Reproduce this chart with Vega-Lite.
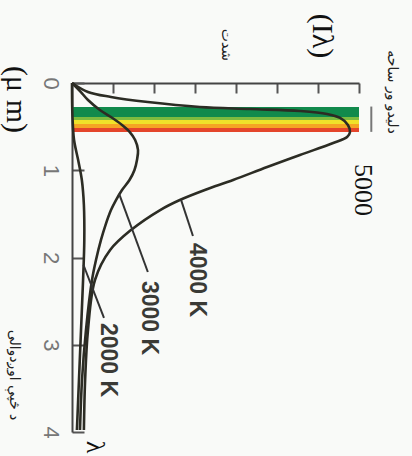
{
  "$schema": "https://vega.github.io/schema/vega-lite/v6.json",
  "width": 287,
  "height": 349,
  "autosize": "none",
  "padding": {"left": 72, "top": 83, "right": 53, "bottom": 24},
  "background": "#f9faf8",
  "config": {"view": {"stroke": null}, "axis": {"grid": false}},
  "datasets": {
    "bands": [
      {"band": "g1", "I": 0, "I2": 7, "L": 0.275, "L2": 0.39},
      {"band": "g2", "I": 0, "I2": 7, "L": 0.39, "L2": 0.424},
      {"band": "y", "I": 0, "I2": 7, "L": 0.424, "L2": 0.47},
      {"band": "o", "I": 0, "I2": 7, "L": 0.47, "L2": 0.516},
      {"band": "r", "I": 0, "I2": 7, "L": 0.516, "L2": 0.562}
    ],
    "curves": [
      {"T": "4000 K", "i": 0, "I": 0, "L": 0},
      {"T": "4000 K", "i": 1, "I": 0.39, "L": 0.103},
      {"T": "4000 K", "i": 2, "I": 0.95, "L": 0.16},
      {"T": "4000 K", "i": 3, "I": 1.85, "L": 0.218},
      {"T": "4000 K", "i": 4, "I": 3.12, "L": 0.275},
      {"T": "4000 K", "i": 5, "I": 4.34, "L": 0.298},
      {"T": "4000 K", "i": 6, "I": 5.56, "L": 0.321},
      {"T": "4000 K", "i": 7, "I": 6.22, "L": 0.355},
      {"T": "4000 K", "i": 8, "I": 6.54, "L": 0.401},
      {"T": "4000 K", "i": 9, "I": 6.73, "L": 0.481},
      {"T": "4000 K", "i": 10, "I": 6.78, "L": 0.562},
      {"T": "4000 K", "i": 11, "I": 6.71, "L": 0.619},
      {"T": "4000 K", "i": 12, "I": 6.37, "L": 0.688},
      {"T": "4000 K", "i": 13, "I": 5.56, "L": 0.825},
      {"T": "4000 K", "i": 14, "I": 4.76, "L": 0.963},
      {"T": "4000 K", "i": 15, "I": 3.93, "L": 1.112},
      {"T": "4000 K", "i": 16, "I": 3.24, "L": 1.226},
      {"T": "4000 K", "i": 17, "I": 2.63, "L": 1.341},
      {"T": "4000 K", "i": 18, "I": 2.15, "L": 1.456},
      {"T": "4000 K", "i": 19, "I": 1.44, "L": 1.685},
      {"T": "4000 K", "i": 20, "I": 0.93, "L": 1.914},
      {"T": "4000 K", "i": 21, "I": 0.56, "L": 2.258},
      {"T": "4000 K", "i": 22, "I": 0.39, "L": 2.831},
      {"T": "4000 K", "i": 23, "I": 0.32, "L": 3.404},
      {"T": "4000 K", "i": 24, "I": 0.29, "L": 3.977},
      {"T": "3000 K", "i": 0, "I": 0, "L": 0},
      {"T": "3000 K", "i": 1, "I": 0.195, "L": 0.092},
      {"T": "3000 K", "i": 2, "I": 0.39, "L": 0.195},
      {"T": "3000 K", "i": 3, "I": 0.68, "L": 0.309},
      {"T": "3000 K", "i": 4, "I": 0.95, "L": 0.39},
      {"T": "3000 K", "i": 5, "I": 1.22, "L": 0.481},
      {"T": "3000 K", "i": 6, "I": 1.41, "L": 0.562},
      {"T": "3000 K", "i": 7, "I": 1.54, "L": 0.653},
      {"T": "3000 K", "i": 8, "I": 1.61, "L": 0.768},
      {"T": "3000 K", "i": 9, "I": 1.585, "L": 0.883},
      {"T": "3000 K", "i": 10, "I": 1.524, "L": 0.997},
      {"T": "3000 K", "i": 11, "I": 1.402, "L": 1.112},
      {"T": "3000 K", "i": 12, "I": 1.22, "L": 1.226},
      {"T": "3000 K", "i": 13, "I": 1.073, "L": 1.341},
      {"T": "3000 K", "i": 14, "I": 0.951, "L": 1.456},
      {"T": "3000 K", "i": 15, "I": 0.817, "L": 1.628},
      {"T": "3000 K", "i": 16, "I": 0.707, "L": 1.799},
      {"T": "3000 K", "i": 17, "I": 0.585, "L": 2.029},
      {"T": "3000 K", "i": 18, "I": 0.488, "L": 2.258},
      {"T": "3000 K", "i": 19, "I": 0.341, "L": 2.831},
      {"T": "3000 K", "i": 20, "I": 0.244, "L": 3.404},
      {"T": "3000 K", "i": 21, "I": 0.195, "L": 3.977},
      {"T": "2000 K", "i": 0, "I": 0, "L": 0},
      {"T": "2000 K", "i": 1, "I": 0.01, "L": 0.367},
      {"T": "2000 K", "i": 2, "I": 0.05, "L": 0.653},
      {"T": "2000 K", "i": 3, "I": 0.15, "L": 0.883},
      {"T": "2000 K", "i": 4, "I": 0.24, "L": 1.112},
      {"T": "2000 K", "i": 5, "I": 0.29, "L": 1.398},
      {"T": "2000 K", "i": 6, "I": 0.3, "L": 1.799},
      {"T": "2000 K", "i": 7, "I": 0.27, "L": 2.258},
      {"T": "2000 K", "i": 8, "I": 0.22, "L": 2.831},
      {"T": "2000 K", "i": 9, "I": 0.17, "L": 3.404},
      {"T": "2000 K", "i": 10, "I": 0.12, "L": 3.977}
    ],
    "leaders": [
      {"T": "4000 K", "I": 2.66, "L": 1.34, "I2": 2.95, "L2": 1.754},
      {"T": "3000 K", "I": 1.15, "L": 1.27, "I2": 1.85, "L2": 2.166},
      {"T": "2000 K", "I": 0.28, "L": 2.086, "I2": 0.78, "L2": 2.693}
    ],
    "curveLabels": [
      {"t": "4000 K", "I": 3.05, "L": 2.258},
      {"t": "3000 K", "I": 1.88, "L": 2.693},
      {"t": "2000 K", "I": 0.88, "L": 3.175}
    ],
    "serifLabels": [
      {"t": "5000", "I": 7.1, "L": 1.226},
      {"t": "λ", "I": 0.56, "L": 4.172}
    ],
    "bigSerifLabels": [
      {"t": "(Iλ)", "I": 6.1, "L": -0.539},
      {"t": "(μ m)", "I": -1.37, "L": 0.19}
    ],
    "arabicLabels": [
      {"t": "شدت", "I": 3.76, "L": -0.436},
      {"t": "دلیدو ور ساحه", "I": 7.8, "L": 0.103},
      {"t": "د څپې اوږدوالی", "I": -1.41, "L": 3.347}
    ],
    "brace": [
      {"I": 7.3, "L": 0.27, "I2": 7.3, "L2": 0.56}
    ]
  },
  "encoding": {
    "x": {
      "field": "I", "type": "quantitative",
      "scale": {"domain": [0, 7], "nice": false, "zero": false},
      "axis": {
        "orient": "top", "values": [1, 2, 3, 4, 5, 6, 7], "labels": false, "title": null,
        "tickSize": -10, "tickWidth": 2, "tickColor": "#555", "domainColor": "#444", "domainWidth": 2
      }
    },
    "y": {
      "field": "L", "type": "quantitative",
      "scale": {"domain": [0, 4], "nice": false, "zero": false, "reverse": true},
      "axis": {
        "orient": "left", "values": [0, 1, 2, 3, 4], "title": null,
        "tickSize": -12, "tickWidth": 2, "tickColor": "#555", "domainColor": "#444", "domainWidth": 2,
        "labelPadding": 34, "labelAngle": 90, "labelAlign": "center", "labelBaseline": "middle",
        "labelFont": "Liberation Sans", "labelFontSize": 22, "labelColor": "#777"
      }
    }
  },
  "layer": [
    {
      "data": {"name": "bands"},
      "mark": {"type": "rect"},
      "encoding": {
        "x2": {"field": "I2"},
        "y2": {"field": "L2"},
        "color": {
          "field": "band", "type": "nominal", "legend": null,
          "scale": {"domain": ["g1", "g2", "y", "o", "r"], "range": ["#118a4c", "#7dbb3f", "#f0e22a", "#f5a524", "#e4452b"]}
        }
      }
    },
    {
      "data": {"name": "brace"},
      "mark": {"type": "rule", "color": "#777", "strokeWidth": 2},
      "encoding": {"x2": {"field": "I2"}, "y2": {"field": "L2"}}
    },
    {
      "data": {"name": "curves"},
      "mark": {"type": "line", "color": "#2c2c24", "strokeWidth": 2.6, "interpolate": "catmull-rom"},
      "encoding": {
        "detail": {"field": "T", "type": "nominal"},
        "order": {"field": "i", "type": "quantitative"}
      }
    },
    {
      "data": {"name": "leaders"},
      "mark": {"type": "rule", "color": "#333", "strokeWidth": 2},
      "encoding": {"x2": {"field": "I2"}, "y2": {"field": "L2"}}
    },
    {
      "data": {"name": "curveLabels"},
      "mark": {"type": "text", "angle": 90, "align": "center", "baseline": "middle", "font": "Liberation Sans", "fontWeight": "bold", "fontSize": 23, "color": "#3a3a36"},
      "encoding": {"text": {"field": "t"}}
    },
    {
      "data": {"name": "serifLabels"},
      "mark": {"type": "text", "angle": 90, "align": "center", "baseline": "middle", "font": "Liberation Serif", "fontSize": 26, "color": "#111"},
      "encoding": {"text": {"field": "t"}}
    },
    {
      "data": {"name": "bigSerifLabels"},
      "mark": {"type": "text", "angle": 90, "align": "center", "baseline": "middle", "font": "Liberation Serif", "fontSize": 30, "color": "#111"},
      "encoding": {"text": {"field": "t"}}
    },
    {
      "data": {"name": "arabicLabels"},
      "mark": {"type": "text", "angle": 90, "align": "center", "baseline": "middle", "font": "DejaVu Sans", "fontSize": 14, "color": "#222"},
      "encoding": {"text": {"field": "t"}}
    }
  ]
}
